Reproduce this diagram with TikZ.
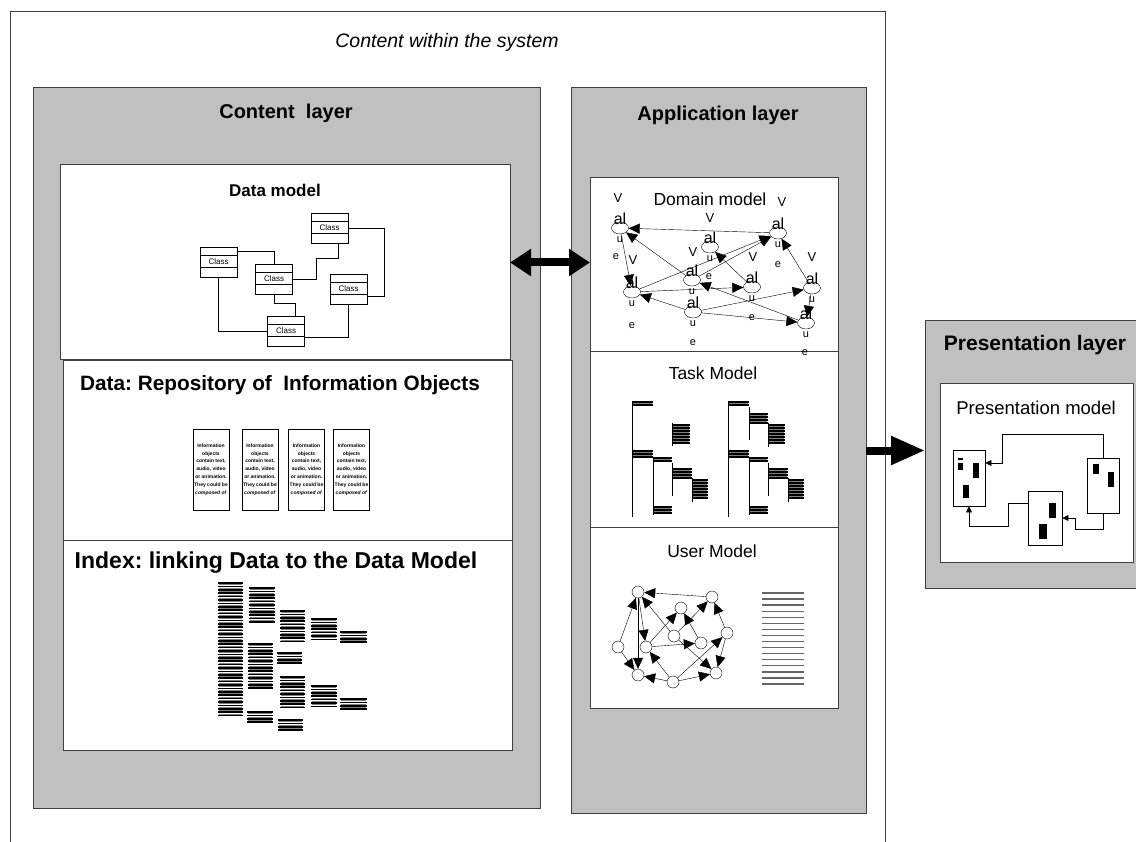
\documentclass[tikz,border=0pt]{standalone}
\usepackage{fontspec}
\setmainfont{Liberation Sans}
\usetikzlibrary{arrows.meta,shapes.geometric}
\definecolor{layergray}{HTML}{C0C0C0}
\frenchspacing
\tikzset{
  boxline/.style={draw=black!75, line width=1pt},
  layerbox/.style={boxline, fill=layergray, anchor=north west, inner sep=0pt, outer sep=0pt},
  panel/.style={boxline, fill=white, anchor=north west, inner sep=0pt, outer sep=0pt},
  ltitle/.style={font=\bfseries\fontsize{20}{24}\selectfont},
  mtitle/.style={font=\fontsize{17.5}{20}\selectfont},
  classbox/.style={draw, fill=white, line width=0.8pt, minimum width=37pt, minimum height=30pt,
    inner sep=0pt, font=\fontsize{8}{8}\selectfont,
    path picture={
      \draw[line width=0.8pt] ([yshift=-8pt]path picture bounding box.north west) -- ([yshift=-8pt]path picture bounding box.north east);
      \draw[line width=0.8pt] ([yshift=10pt]path picture bounding box.south west) -- ([yshift=10pt]path picture bounding box.south east);}},
  infobox/.style={draw, line width=0.8pt, minimum width=36pt, minimum height=81pt, inner sep=0pt,
    align=center, font=\bfseries\fontsize{5}{7.8}\selectfont},
  dnode/.style={ellipse, draw, fill=white, minimum width=17pt, minimum height=12pt, inner sep=0pt},
  unode/.style={circle, draw, fill=white, minimum size=12pt, inner sep=0pt},
  dtext/.style={inner sep=0pt, font=\fontsize{#1}{#1}\selectfont},
  arr/.style={-{Triangle[length=11pt,width=10pt]}},
  smallarr/.style={-{Triangle[length=6pt,width=6pt]}},
  win/.style={draw, fill=white, line width=0.8pt, inner sep=0pt},
  bigarrow/.style={line width=8pt}
}
\begin{document}
\begin{tikzpicture}[x=1pt,y=-1pt]
	\useasboundingbox (0,0) rectangle (1136,842);
	\def\bars(#1,#2,#3,#4,#5){% x1, x2, y top, so dong, buoc
		\foreach \k in {1,...,#4}{\draw[line width=1.6pt] (#1,{#3+(\k-1)*#5}) -- (#2,{#3+(\k-1)*#5});}
		\foreach \k in {2,...,#4}{\draw[gray, line width=0.8pt] ({#1+1},{#3+(\k-1.5)*#5}) -- ({#2-1},{#3+(\k-1.5)*#5});}
	}
	\def\dnode(#1,#2,#3){% ten, x, y
		\node[dnode] (#1) at (#2,#3) {};
		\node[dtext=16] (#1a) at (#2,#3-9) {al};
		\node[dtext=11] (#1u) at (#2,#3+12) {u};
	}
	% Khung ngoai
	\draw[boxline] (10,12) rectangle (885,860);
	\node[font=\itshape\fontsize{19.5}{22}\selectfont] (sys) at (447,42) {Content within the system};
	% Ba lop
	\node[layerbox, minimum width=507, minimum height=720] (cl) at (33,88) {};
	\node[layerbox, minimum width=295, minimum height=725] (al) at (571,88) {};
	\node[layerbox, minimum width=215, minimum height=267] (pl) at (925,321) {};
	\node[ltitle] (clt) at (286,113) {Content\ \ layer};
	\node[ltitle] (alt) at (718,115) {Application layer};
	\node[font=\bfseries\fontsize{21}{24}\selectfont] (plt) at (1035,345) {Presentation layer};
	% Cac o trang
	\node[panel, minimum width=450, minimum height=195] (dm) at (60,165) {};
	\node[panel, minimum width=449, minimum height=179] (dr) at (63,361) {};
	\node[panel, minimum width=449, minimum height=210] (ix) at (63,540) {};
	\node[panel, minimum width=248, minimum height=530] (ap) at (590,178) {};
	\node[panel, minimum width=193, minimum height=178] (pm) at (940,384) {};
	\draw[boxline] (ap.west |- 0,352) -- (ap.east |- 0,352);
	\draw[boxline] (ap.west |- 0,527) -- (ap.east |- 0,527);
	\node[font=\bfseries\fontsize{17}{20}\selectfont] (dmt) at (275,190) {Data model};
	\node[font=\bfseries\fontsize{20.8}{24}\selectfont] (drt) at (280,385) {Data: Repository of\ \ Information Objects};
	\node[font=\bfseries\fontsize{23}{26}\selectfont] (ixt) at (276,563) {Index: linking Data to the Data Model};
	\node[mtitle] (dmo) at (710,199) {Domain model};
	\node[mtitle] (tmo) at (713,373) {Task Model};
	\node[mtitle] (umo) at (712,551) {User Model};
	\node[font=\fontsize{18.5}{20}\selectfont] (pmo) at (1036,408) {Presentation model};
	% Data model: cac lop
	\node[classbox] (ca) at (329.5,228) {Class};
	\node[classbox] (cb) at (218.5,262) {Class};
	\node[classbox] (cc) at (274,279) {Class};
	\node[classbox] (cd) at (348.5,289) {Class};
	\node[classbox] (ce) at (286,331) {Class};
	\draw ([yshift=-5pt]cb.north east) -| (cc.north);
	\draw (cc.east) -- ++(23,0) -- ++(0,-21) -| ([xshift=9pt]ca.south);
	\draw (ca.east) -- ++(36,0) |- ([yshift=-7pt]cd.east);
	\draw (cd.south) |- ([yshift=-6pt]ce.east);
	\draw (cc.south) -- ++(0,9) -| ([xshift=9pt]ce.north);
	\draw (cb.south) |- (ce.west);
	% Cac doi tuong thong tin
	\foreach \n/\xx in {o1/211,o2/260,o3/306.5,o4/351.5}
		\node[infobox] (\n) at (\xx,469.5) {Information\\objects\\contain text,\\audio, video\\or animation.\\They could be\\\textit{composed of}};
	% Index
	\bars(218,243,583,40,3.4)
	\bars(249,275,588,11,3.4)
	\bars(248,273,644,14,3.4)
	\bars(247,273,712,4,3.4)
	\bars(280,305,611,10,3.4)
	\bars(277,302,653,4,3.4)
	\bars(280,305,677,10,3.4)
	\bars(278,303,720,4,3.4)
	\bars(311,337,619,7,3.4)
	\bars(311,337,686,7,3.4)
	\bars(340,367,632,4,3.4)
	\bars(340,367,699,4,3.4)
	% Domain model
	\dnode(d1,620,228)
	\dnode(d2,632,292)
	\dnode(d3,710,247)
	\dnode(d4,692,280)
	\dnode(d5,778,233)
	\dnode(d6,752,287)
	\dnode(d7,812,288)
	\dnode(d8,693,312)
	\dnode(d9,806,323)
	\foreach \n/\xx/\yy in {v1/618/198,v2/633/260,v3/710/218,v4/693/252,v5/782/202,v6/753/257,v7/812/257}
		\node[dtext=13] (\n) at (\xx,\yy) {V};
	\foreach \n/\xx/\yy in {e1/616/257,e2/709/277,e3/778/265,e4/632/326,e5/693/343,e6/805/353,e7/752/318}
		\node[dtext=11] (\n) at (\xx,\yy) {e};
	\foreach \a/\b in {d5/d1,d4/d1,d1/d2,d2/d5,d4/d5,d6/d3,d9/d4,d8/d2,d2/d6,d8/d7,d8/d9,d7/d5,d7/d9}
		\draw[arr] (\a) -- (\b);
	% Task model
	\bars(632,653,402,2,3)
	\bars(672,690,425,7,3)
	\bars(632,653,451,3,3)
	\bars(653,672,458,2,3)
	\bars(672,692,469,4,3)
	\bars(692,708,480,7,3)
	\bars(653,672,507,3,3)
	\bars(728,749,402,2,3)
	\bars(749,768,414,4,3)
	\bars(768,785,425,7,3)
	\bars(728,749,451,3,3)
	\bars(749,768,458,2,3)
	\bars(768,788,469,4,3)
	\bars(788,804,480,7,3)
	\bars(749,768,507,3,3)
	\foreach \xx/\ya/\yb in {632/402/517,653/457/515,672/463/496,692/478/502,672/423/446,
		728/402/517,749/407/440,768/423/447,749/457/515,768/463/496,788/478/502}
		\draw[line width=0.8pt] (\xx,\ya) -- (\xx,\yb);
	% User model
	\foreach \n/\xx/\yy in {u1/638/592,u2/712/597,u3/681/608,u4/674/636,u5/727/633,u6/701/643,
		u7/618/647,u8/646/647,u9/638/675,u10/673/682,u11/716/673}
		\node[unode] (\n) at (\xx,\yy) {};
	\foreach \a/\b in {u2/u1,u4/u1,u1/u8,u1/u9,u7/u1,u7/u9,u8/u3,u4/u2,u6/u3,u8/u6,u4/u11,
		u10/u8,u10/u9,u10/u11,u10/u5,u5/u11,u5/u2}
		\draw[arr] (\a) -- (\b);
	\foreach \k in {0,...,15}
		\draw[black!60, line width=1.3pt] (762,{593+\k*6.07}) -- (804,{593+\k*6.07});
	% Presentation model
	\node[win, minimum width=32, minimum height=56] (p1) at (969,478) {};
	\node[win, minimum width=34, minimum height=54] (p2) at (1045,518) {};
	\node[win, minimum width=32, minimum height=55] (p3) at (1103,485.5) {};
	\fill (958,458) rectangle (963,460);
	\fill (958,463) rectangle (963,470);
	\fill (973,463) rectangle (979,478);
	\fill (963,485) rectangle (969,498);
	\fill (1049,503) rectangle (1056,518);
	\fill (1039,524) rectangle (1047,539);
	\fill (1093,464) rectangle (1099,474);
	\fill (1108,472) rectangle (1114,487);
	\draw[smallarr] (p3.north) -- ++(0,-23) -- ++(-101,0) |- ([yshift=15pt]p1.east);
	\draw[smallarr] (p3.south) -- ++(0,16) -- ++(-28,0) |- (p2.east);
	\draw[smallarr] ([yshift=15pt]p2.west) -- ++(-19,0) -- ++(0,23) -| (p1.south);
	% Mui ten giua cac lop
	\draw[bigarrow, {Triangle[length=21pt,width=26pt]}-{Triangle[length=21pt,width=26pt]}] (dm.east) -- (dm.east -| ap.west);
	\draw[bigarrow, -{Triangle[length=34pt,width=27pt]}] (al.east) -- (al.east -| pl.west);
\end{tikzpicture}
\end{document}
